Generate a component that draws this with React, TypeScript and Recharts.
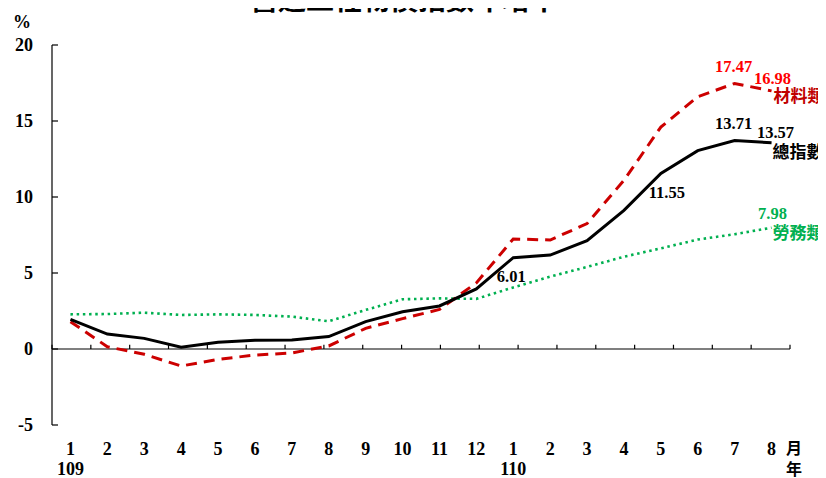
import React from 'react';
import { LineChart, Line, XAxis, YAxis, ReferenceLine } from 'recharts';

const years = ['109', '109', '109', '109', '109', '109', '109', '109', '109', '109', '109', '109', '110', '110', '110', '110', '110', '110', '110', '110'];
const months = [1, 2, 3, 4, 5, 6, 7, 8, 9, 10, 11, 12, 1, 2, 3, 4, 5, 6, 7, 8];
const totalIndex = [1.95, 0.98, 0.7, 0.11, 0.44, 0.57, 0.6, 0.82, 1.8, 2.45, 2.83, 3.95, 6.01, 6.18, 7.13, 9.12, 11.55, 13.05, 13.71, 13.57];
const materials = [1.8, 0.15, -0.35, -1.12, -0.68, -0.4, -0.26, 0.2, 1.36, 2.0, 2.6, 4.35, 7.24, 7.17, 8.25, 11.1, 14.6, 16.6, 17.47, 16.98];
const labor = [2.28, 2.3, 2.39, 2.24, 2.28, 2.24, 2.13, 1.82, 2.57, 3.27, 3.33, 3.3, 4.05, 4.76, 5.4, 6.07, 6.62, 7.2, 7.55, 7.98];
const yTicks = [-5, 0, 5, 10, 15, 20];
const tickPositions = [0, 1, 2, 3, 4, 5, 6, 7, 8, 9, 10, 11, 12, 13, 14, 15, 16, 17, 18, 19, 19.5];

const data = months.map((m, i) => ({
  key: `${years[i]}-${m}`,
  month: m,
  year: years[i],
  total: totalIndex[i],
  materials: materials[i],
  labor: labor[i],
}));

const SERIF = '"Liberation Serif", "Times New Roman", serif';
const CJK = '"Noto Sans CJK TC", "Noto Sans CJK SC", sans-serif';

const XTick = (props: any) => {
  const { x, y, payload } = props;
  const [yr, m] = String(payload.value).split('-');
  return (
    <g>
      <text x={x} y={y + 30} textAnchor="middle" fontFamily={SERIF} fontWeight="bold" fontSize={18} fill="#000">
        {m}
      </text>
      {m === '1' ? (
        <text x={x} y={y + 50} textAnchor="middle" fontFamily={SERIF} fontWeight="bold" fontSize={18} fill="#000">
          {yr}
        </text>
      ) : null}
    </g>
  );
};

const YTick = (props: any) => {
  const { x, y, payload } = props;
  return (
    <g>
      <line x1={x} x2={x + 6} y1={y} y2={y} stroke="#000" strokeWidth={1.2} />
      <text x={x - 19} y={y + 6} textAnchor="end" fontFamily={SERIF} fontWeight="bold" fontSize={18} fill="#000">
        {payload.value}
      </text>
    </g>
  );
};

type LabelSpec = { text?: string; dx: number; dy: number; anchor: string; color: string; cjk?: boolean };

const makeLabel = (specs: Record<number, LabelSpec[]>) => (p: any) => {
  const idx = p.index;
  const list = specs[idx];
  if (!list || p.x == null || p.y == null) return null;
  return (
    <g key={`lbl-${idx}`}>
      {list.map((s, k) => (
        <text
          key={k}
          x={p.x + s.dx}
          y={p.y + s.dy}
          textAnchor={s.anchor as any}
          fontFamily={s.cjk ? CJK : SERIF}
          fontWeight="bold"
          fontSize={s.cjk ? 17 : 16.5}
          fill={s.color}
        >
          {s.text ?? String(p.value)}
        </text>
      ))}
    </g>
  );
};

const redLabels = makeLabel({
  18: [{ dx: -1, dy: -11, anchor: 'middle', color: '#FF0000' }],
  19: [
    { dx: 1, dy: -7, anchor: 'middle', color: '#FF0000' },
    { text: '材料類', dx: 2, dy: 11, anchor: 'start', color: '#C00000', cjk: true },
  ],
});
const blackLabels = makeLabel({
  12: [{ dx: -2, dy: 24, anchor: 'middle', color: '#000' }],
  16: [{ dx: 6, dy: 25, anchor: 'middle', color: '#000' }],
  18: [{ dx: -1, dy: -12, anchor: 'middle', color: '#000' }],
  19: [
    { dx: 4, dy: -5, anchor: 'middle', color: '#000' },
    { text: '總指數', dx: 1, dy: 15, anchor: 'start', color: '#000', cjk: true },
  ],
});
const greenLabels = makeLabel({
  19: [
    { dx: 1, dy: -9, anchor: 'middle', color: '#00B050' },
    { text: '勞務類', dx: 1, dy: 11, anchor: 'start', color: '#00B050', cjk: true },
  ],
});

export default function App() {
  return (
    <div style={{ position: 'relative', width: 826, height: 478, margin: '-8px 0 0 -8px', overflow: 'hidden', background: '#fff' }}>
      <LineChart width={826} height={478} data={data} margin={{ top: 45, right: 36, bottom: 0, left: 0 }}>
        <XAxis dataKey="key" type="category" scale="band" height={53} axisLine={false} tickLine={false} tickSize={0} tickMargin={0} interval={0} tick={<XTick />} />
        <XAxis xAxisId="n" type="number" domain={[-0.5, 19.5]} hide />
        <YAxis
          domain={[-5, 20]}
          ticks={yTicks}
          width={52}
          axisLine={{ stroke: '#000', strokeWidth: 1.2 }}
          tickLine={false}
          tickSize={0}
          tickMargin={0}
          tick={<YTick />}
          interval={0}
          allowDataOverflow
        />
        <ReferenceLine xAxisId="n" y={0} stroke="#000" strokeWidth={1.2} />
        {tickPositions.map((t) => (
          <ReferenceLine
            key={`t${t}`}
            xAxisId="n"
            segment={[{ x: t, y: 0 }, { x: t, y: 0.28 }]}
            stroke="#000"
            strokeWidth={1.2}
          />
        ))}
        <Line
          dataKey="labor"
          stroke="#00B050"
          strokeWidth={2.6}
          strokeDasharray="2.5 3.7"
          dot={false}
          isAnimationActive={false}
          label={greenLabels}
        />
        <Line
          dataKey="materials"
          stroke="#CC0000"
          strokeWidth={3}
          strokeDasharray="11 7"
          dot={false}
          isAnimationActive={false}
          label={redLabels}
        />
        <Line
          dataKey="total"
          stroke="#000"
          strokeWidth={3}
          dot={false}
          isAnimationActive={false}
          label={blackLabels}
        />
      </LineChart>
      <svg width={826} height={478} style={{ position: 'absolute', left: 0, top: 0, pointerEvents: 'none' }}>
        <text x={404} y={10} textAnchor="middle" fontFamily={CJK} fontWeight="bold" fontSize={28} fill="#000">
          營造工程物價指數年增率
        </text>
        <text x={22} y={28} textAnchor="middle" fontFamily={SERIF} fontWeight="bold" fontSize={18} fill="#000">
          %
        </text>
        <text x={786} y={454} textAnchor="start" fontFamily={CJK} fontWeight="bold" fontSize={16} fill="#000">
          月
        </text>
        <text x={786} y={475} textAnchor="start" fontFamily={CJK} fontWeight="bold" fontSize={16} fill="#000">
          年
        </text>
      </svg>
    </div>
  );
}
